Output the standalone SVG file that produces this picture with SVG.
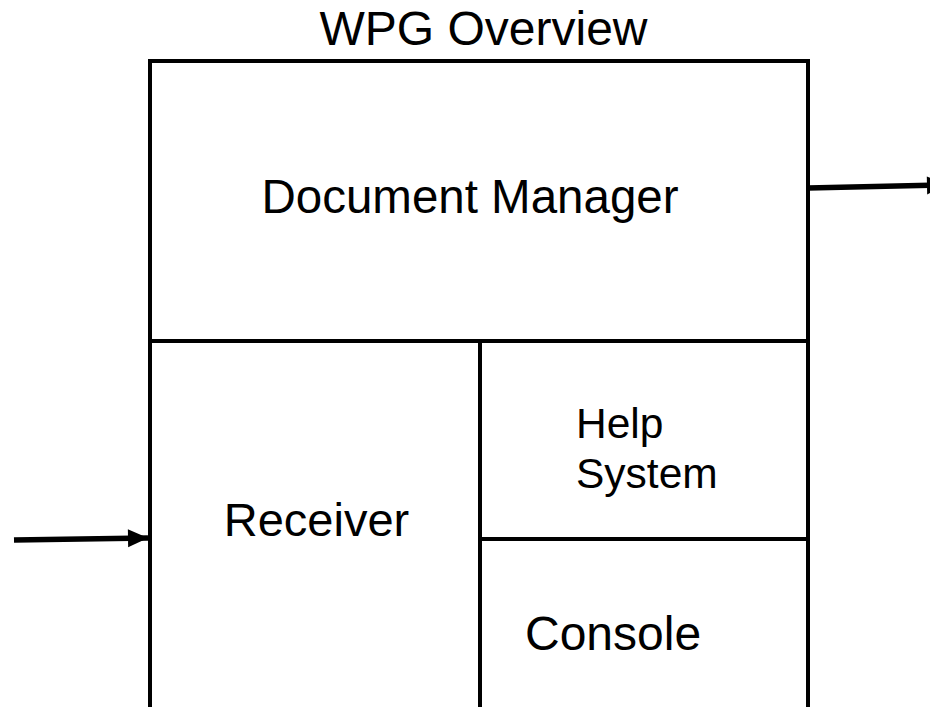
<svg xmlns="http://www.w3.org/2000/svg" width="930" height="707" viewBox="0 0 930 707">
  <style>
    .box { fill: none; stroke: #000; stroke-width: 4; }
    .conn { stroke: #000; stroke-width: 5.5; fill: none; }
    .lbl { font-family: "Liberation Sans", Arial, sans-serif; fill: #000; }
  </style>
  <defs>
    <marker id="arr" markerUnits="userSpaceOnUse" markerWidth="22" markerHeight="20" refX="20" refY="9" orient="auto" overflow="visible">
      <polygon points="0,0 20,9 0,18" fill="#000"/>
    </marker>
  </defs>
  <rect width="930" height="707" fill="#fff"/>
  <text class="lbl" x="483.5" y="45" font-size="48" text-anchor="middle">WPG Overview</text>
  <g id="document-manager">
    <path class="box" d="M150,720 V61 H808 V720"/>
    <line class="box" x1="150" y1="341" x2="808" y2="341"/>
    <text class="lbl" x="470" y="213" font-size="47.5" text-anchor="middle">Document Manager</text>
  </g>
  <g id="receiver">
    <line class="box" x1="480" y1="341" x2="480" y2="720"/>
    <text class="lbl" x="316.5" y="536" font-size="47" text-anchor="middle">Receiver</text>
  </g>
  <g id="help-system">
    <line class="box" x1="480" y1="539" x2="808" y2="539"/>
    <text class="lbl" x="576" y="438" font-size="42.5">Help</text>
    <text class="lbl" x="576" y="488" font-size="42.5">System</text>
  </g>
  <g id="console">
    <text class="lbl" x="525" y="650" font-size="48">Console</text>
  </g>
  <g id="connectors">
    <line class="conn" x1="14" y1="540" x2="148" y2="538" marker-end="url(#arr)"/>
    <line class="conn" x1="808" y1="188" x2="947" y2="185" marker-end="url(#arr)"/>
  </g>
</svg>
